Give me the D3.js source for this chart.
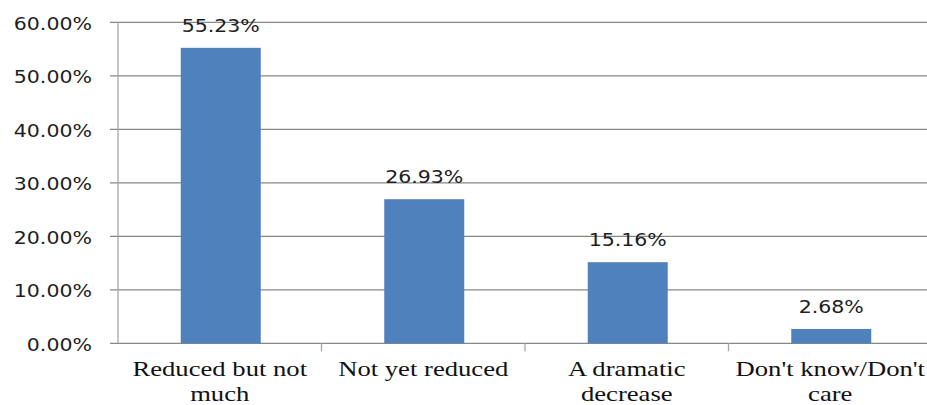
<!DOCTYPE html>
<html>
<head>
<meta charset="utf-8">
<script src="https://cdn.jsdelivr.net/npm/d3@7"></script>
<style>
  html, body { margin: 0; padding: 0; background: #ffffff; }
  svg { display: block; }
  .num { font-family: "DejaVu Sans", Verdana, sans-serif; }
  .cat { font-family: "Liberation Serif", "Times New Roman", serif; }
</style>
</head>
<body>
<svg id="chart" width="927" height="405"></svg>
<script>
// Survey answers and their shares (percent)
const categories = ["Reduced but not much", "Not yet reduced", "A dramatic decrease", "Don't know/Don't care"];
const shares = [55.23, 26.93, 15.16, 2.68];
const yTicks = [0, 10, 20, 30, 40, 50, 60];

const W = 927, H = 405;
const plotLeft = 118, plotRight = 932, plotTop = 22.3, plotBottom = 343.3;

const svg = d3.select("#chart");

const y = d3.scaleLinear().domain([0, 60]).range([plotBottom, plotTop]);
const x = d3.scaleBand().domain(categories).range([plotLeft, plotRight]).paddingInner(0).paddingOuter(0);

const numSize = 18, numStretch = 1.14;
const catSize = 21.5, catStretch = 1.24;

// Horizontal gridlines (these also form the left tick marks)
svg.append("g")
  .selectAll("line")
  .data(yTicks)
  .join("line")
  .attr("x1", plotLeft - 8)
  .attr("x2", W + 10)
  .attr("y1", d => y(d))
  .attr("y2", d => y(d))
  .attr("stroke", "#878787")
  .attr("stroke-width", 1.3);

// Value axis line
svg.append("line")
  .attr("x1", plotLeft).attr("x2", plotLeft)
  .attr("y1", y(60)).attr("y2", y(0))
  .attr("stroke", "#a6a6a6")
  .attr("stroke-width", 1.3);

// Value axis labels
svg.append("g")
  .selectAll("text")
  .data(yTicks)
  .join("text")
  .attr("class", "num")
  .attr("transform", d => `translate(92,${y(d) + 7.4}) scale(${numStretch},1)`)
  .attr("text-anchor", "end")
  .attr("font-size", numSize)
  .attr("fill", "#1e1e1e")
  .text(d => d.toFixed(2) + "%");

// Category tick marks along the bottom
const bounds = categories.map(c => x(c)).concat([plotRight]);
svg.append("g")
  .selectAll("line")
  .data(bounds.slice(1))
  .join("line")
  .attr("x1", d => d).attr("x2", d => d)
  .attr("y1", y(0)).attr("y2", y(0) + 8)
  .attr("stroke", "#a6a6a6")
  .attr("stroke-width", 1.3);

// Bars
const barW = 80;
svg.append("g")
  .selectAll("rect")
  .data(categories)
  .join("rect")
  .attr("x", (c) => x(c) + x.bandwidth() / 2 - barW / 2 + 1)
  .attr("y", (c, i) => y(shares[i]))
  .attr("width", barW)
  .attr("height", (c, i) => y(0) - y(shares[i]))
  .attr("fill", "#4f81bd");

// Value labels above bars
svg.append("g")
  .selectAll("text")
  .data(categories)
  .join("text")
  .attr("class", "num")
  .attr("transform", (c, i) => `translate(${x(c) + x.bandwidth() / 2 + 1},${y(shares[i]) - 16}) scale(${numStretch},1)`)
  .attr("text-anchor", "middle")
  .attr("font-size", numSize)
  .attr("fill", "#1e1e1e")
  .text((c, i) => shares[i].toFixed(2) + "%");

// Category labels, wrapped to fit their band
const measure = svg.append("text")
  .attr("class", "cat")
  .attr("font-size", catSize)
  .attr("visibility", "hidden");
function textWidth(s) {
  measure.text(s);
  return measure.node().getComputedTextLength() * catStretch;
}
function wrap(label, maxW) {
  const words = label.split(" ");
  const lines = [];
  let cur = "";
  words.forEach(w => {
    const trial = cur ? cur + " " + w : w;
    if (cur && textWidth(trial) > maxW) {
      lines.push(cur);
      cur = w;
    } else {
      cur = trial;
    }
  });
  if (cur) lines.push(cur);
  return lines;
}

const catG = svg.append("g");
categories.forEach(c => {
  const lines = wrap(c, x.bandwidth() - 8);
  const cx = x(c) + x.bandwidth() / 2;
  lines.forEach((ln, k) => {
    catG.append("text")
      .attr("class", "cat")
      .attr("transform", `translate(${cx},${376 + k * 25}) scale(${catStretch},1)`)
      .attr("text-anchor", "middle")
      .attr("font-size", catSize)
      .attr("fill", "#111111")
      .text(ln);
  });
});
measure.remove();
</script>
</body>
</html>
